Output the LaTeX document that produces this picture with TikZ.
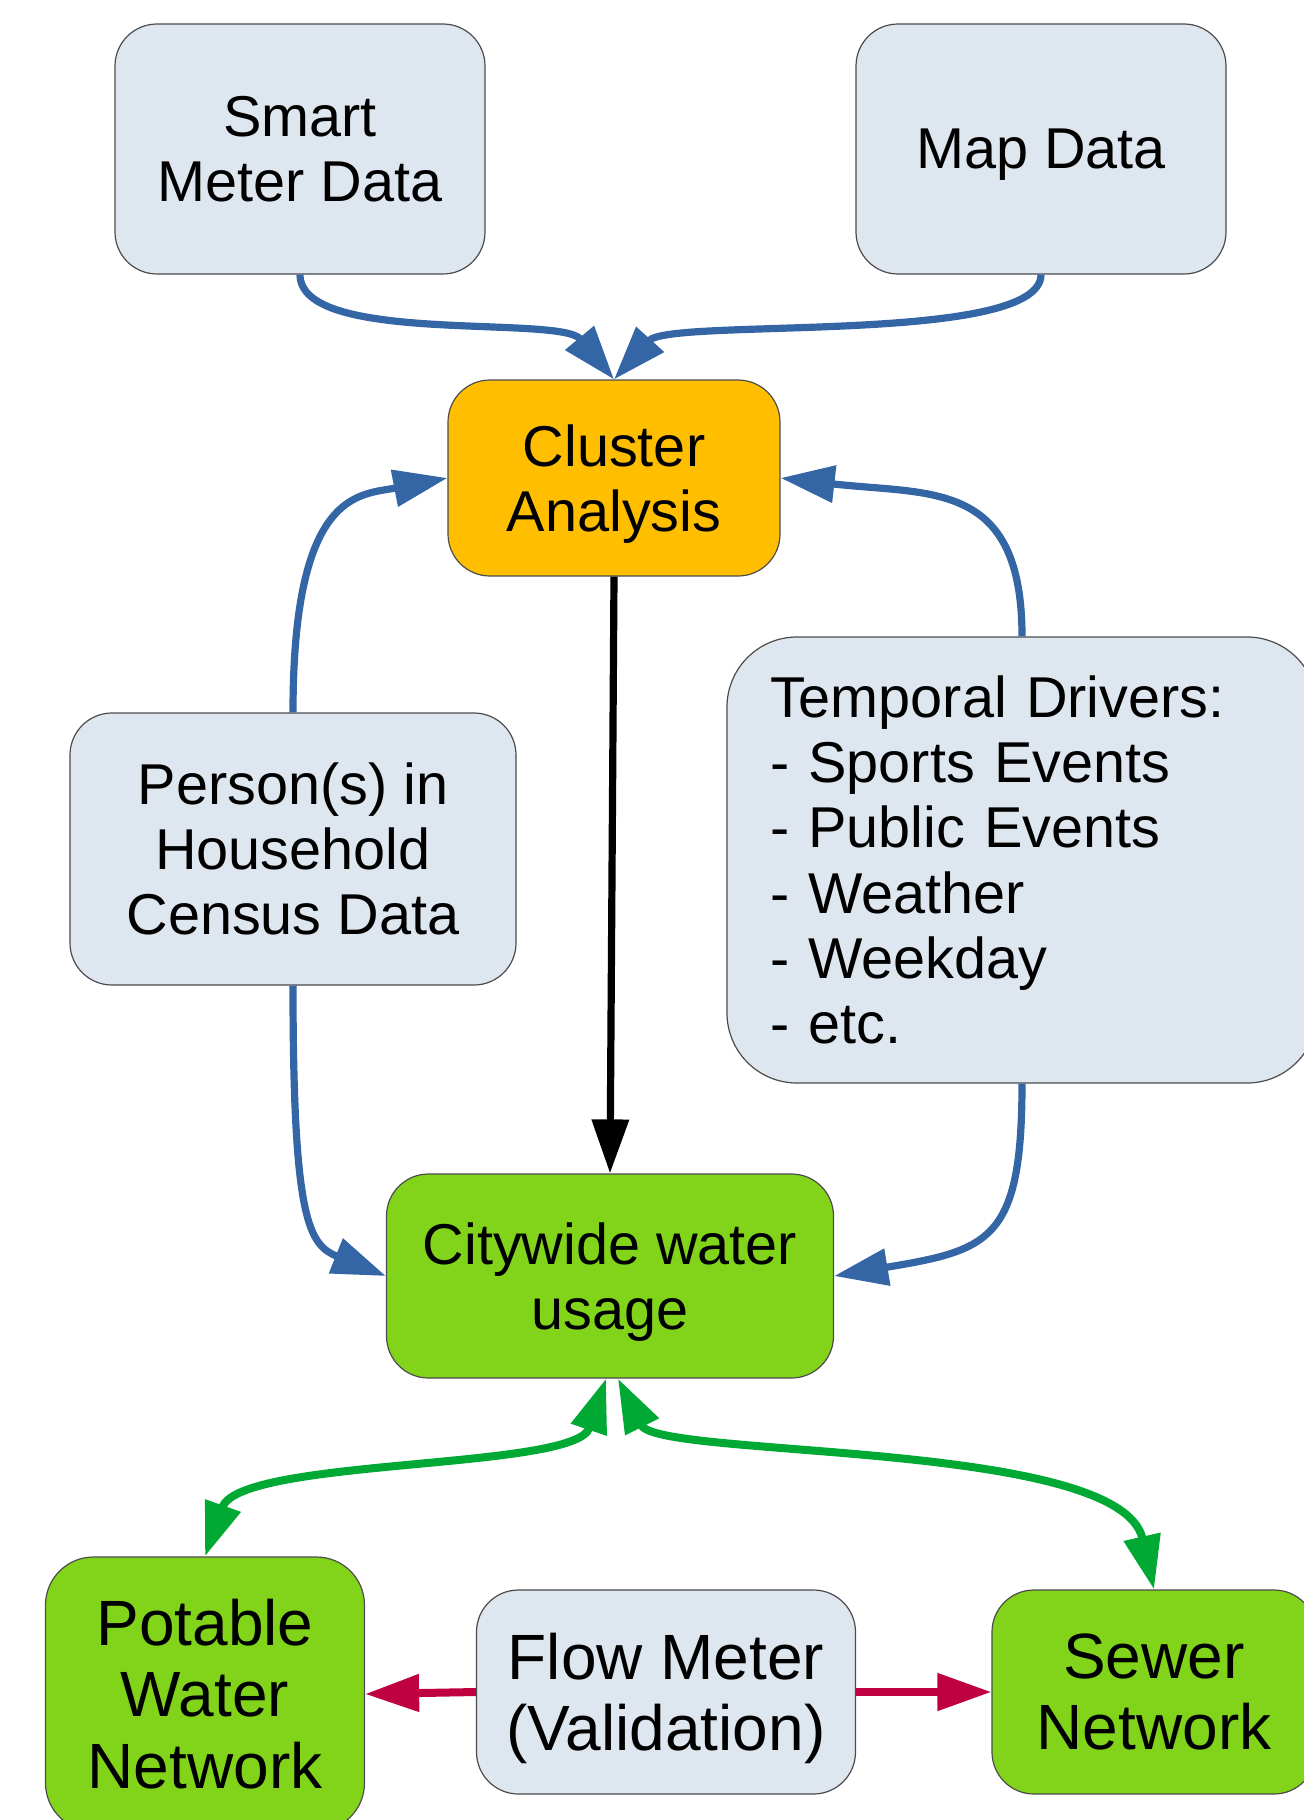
\documentclass[tikz,border=0pt]{standalone}
\usepackage{fontspec}
\setmainfont{Liberation Sans}
\usetikzlibrary{arrows.meta}

\definecolor{boxgrey}{RGB}{222,230,239}
\definecolor{clusterorange}{RGB}{255,191,0}
\definecolor{usagegreen}{RGB}{129,212,26}
\definecolor{linkblue}{RGB}{52,101,164}
\definecolor{linkgreen}{RGB}{0,169,51}
\definecolor{linkred}{RGB}{191,0,65}

\tikzset{
  databox/.style={draw=black!70, line width=0.6pt, fill=boxgrey, rounded corners=21pt,
    inner sep=0pt, align=center, font=\fontsize{28.8}{32.6}\selectfont},
  bigbox/.style={databox, font=\fontsize{32}{35.7}\selectfont},
  netbox/.style={bigbox, fill=usagegreen},
  bluelink/.style={draw=linkblue, line width=3.6pt, arrows={-Triangle[length=27pt,width=18pt]}},
  blacklink/.style={draw=black, line width=3.6pt, arrows={-Triangle[length=27pt,width=18pt]}},
  greenlink/.style={draw=linkgreen, line width=4pt,
    arrows={Triangle[length=27pt,width=18pt]-Triangle[length=27pt,width=18pt]}},
  redlink/.style={draw=linkred, line width=4pt, arrows={-Triangle[length=27pt,width=18pt]}}
}

\begin{document}
\begin{tikzpicture}[x=0.5pt,y=0.5pt,yscale=-1,xscale=1]
\useasboundingbox (0,0) rectangle (1304,1820);

%Shape: Rounded Rect (data sources)
\node [databox, minimum width=185pt, minimum height=125pt] (smart) at (300,149) {Smart\\Meter Data};
\node [databox, text depth=0pt, minimum width=185pt, minimum height=125pt] (map) at (1041,149) {Map Data};
%Shape: Rounded Rect (analysis)
\node [databox, text depth=0pt, fill=clusterorange, minimum width=166pt, minimum height=98pt] (cluster) at (614,478) {Cluster\\Analysis};
\node [databox, minimum width=223pt, minimum height=136pt] (person) at (293,849) {Person(s) in\\Household\\Census Data};
\node [databox, rounded corners=35pt, minimum width=295pt, minimum height=223pt, text width=252pt, align=left] (temporal) at (1022,860)
  {Temporal Drivers:\\- Sports Events\\- Public Events\\- Weather\\- Weekday\\- etc.};
\node [databox, text depth=0pt, fill=usagegreen, minimum width=223.5pt, minimum height=102pt] (citywide) at (610,1276) {Citywide water\\usage};
%Shape: Rounded Rect (networks)
\node [netbox, rounded corners=24pt, minimum width=159.5pt, minimum height=137pt] (potable) at (205,1694) {Potable\\Water\\Network};
\node [bigbox, text depth=0pt, minimum width=189.5pt, minimum height=102pt] (flow) at (666,1692) {Flow Meter\\(Validation)};
\node [netbox, minimum width=162pt, minimum height=102pt] (sewer) at (1154,1692) {Sewer\\Network};

%Curve Lines
\draw [bluelink] (smart.south) .. controls +(0,71) and +(-54,-65) .. (cluster.north);
\draw [bluelink] (map.south) .. controls +(0,71) and +(56,-62) .. (cluster.north);
\draw [bluelink] (person.north) .. controls +(0,-223) and +(-88,17) .. (cluster.west);
\draw [bluelink] (temporal.north) .. controls +(0,-157) and +(150,17) .. (cluster.east);
\draw [blacklink] (cluster.south) -- (citywide.north);
\draw [bluelink] (person.south) .. controls +(0,235) and +(-77,-31) .. (citywide.west);
\draw [bluelink] (temporal.south) .. controls +(0,157) and +(156,-26) .. (citywide.east);
%Curve Lines (networks)
\draw [greenlink] ([xshift=-2pt]citywide.south) .. controls +(-31,92) and +(35,-99) .. (potable.north);
\draw [greenlink] ([xshift=4pt]citywide.south) .. controls +(40,80) and +(-34,-150) .. (sewer.north);
\draw [redlink] (flow.west) -- (potable.east);
\draw [redlink] (flow.east) -- (sewer.west);
\end{tikzpicture}
\end{document}
